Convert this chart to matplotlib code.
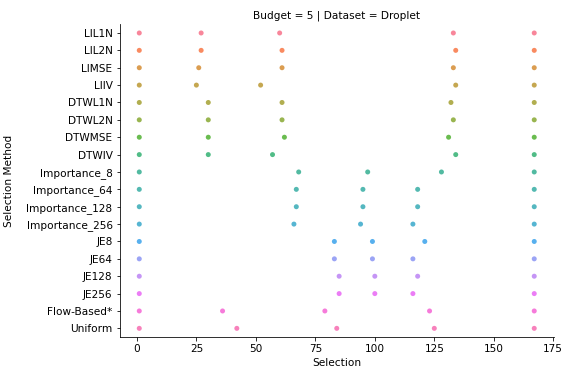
import numpy as np
import pandas as pd
import matplotlib
matplotlib.use("Agg")
import matplotlib.pyplot as plt
import seaborn as sns

methods = ["LIL1N", "LIL2N", "LIMSE", "LIIV", "DTWL1N", "DTWL2N", "DTWMSE", "DTWIV",
           "Importance_8", "Importance_64", "Importance_128", "Importance_256",
           "JE8", "JE64", "JE128", "JE256", "Flow-Based*", "Uniform"]

# selected indices per method (budget = 5)
selections = [
    [1, 27, 60, 133, 167],
    [1, 27, 61, 134, 167],
    [1, 26, 61, 133, 167],
    [1, 25, 52, 134, 167],
    [1, 30, 61, 132, 167],
    [1, 30, 61, 133, 167],
    [1, 30, 62, 131, 167],
    [1, 30, 57, 134, 167],
    [1, 68, 97, 128, 167],
    [1, 67, 95, 118, 167],
    [1, 67, 95, 118, 167],
    [1, 66, 94, 116, 167],
    [1, 83, 99, 121, 167],
    [1, 83, 99, 116, 167],
    [1, 85, 100, 118, 167],
    [1, 85, 100, 116, 167],
    [1, 36, 79, 123, 167],
    [1, 42, 84, 125, 167],
]

df = pd.DataFrame({
    "Selection Method": [m for m, s in zip(methods, selections) for _ in s],
    "Selection": [v for s in selections for v in s],
})

fig = plt.figure(figsize=(563 / 72, 372 / 72), dpi=72)
ax = fig.add_axes([0.2123, 0.094, 0.7717, 0.8407])

pal = sns.color_palette("husl", len(methods))
sns.stripplot(data=df, x="Selection", y="Selection Method", hue="Selection Method",
              order=methods, hue_order=methods, palette=pal, jitter=False,
              size=5, alpha=0.85, legend=False, ax=ax)

ax.spines["top"].set_visible(False)
ax.spines["right"].set_visible(False)
ax.set_xticks([0, 25, 50, 75, 100, 125, 150, 175])
ax.tick_params(labelsize=10.5)
ax.set_title("Budget = 5 | Dataset = Droplet", fontsize=10.5)
ax.set_xlabel("Selection", fontsize=10.5)
ax.set_ylabel("Selection Method", fontsize=10.5)
ax.yaxis.set_label_coords(-0.243, 0.5)

fig.savefig("out.png", dpi=72)
